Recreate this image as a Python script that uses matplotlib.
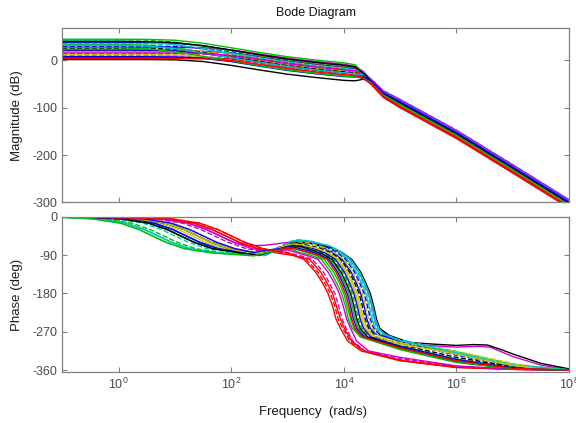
import numpy as np
import matplotlib
matplotlib.use("Agg")
import matplotlib.pyplot as plt
from matplotlib.ticker import FixedLocator, FixedFormatter, NullLocator

plt.rcParams['font.family'] = ['Liberation Sans', 'DejaVu Sans']
plt.rcParams['mathtext.default'] = 'regular'
plt.rcParams['axes.unicode_minus'] = False

# ---------------- data ----------------
# magnitude: log10(frequency in rad/s) sample points shared by all curves
MAG_LOGW = [-1, 0, 0.5, 1, 1.5, 2, 2.5, 3, 3.5, 4, 4.2, 4.35, 4.5, 4.7, 5, 6, 7, 8]

# magnitude (dB) of each system at MAG_LOGW
MAG_DB = [
    [38, 38, 37.8, 36.5, 31.0, 21.9, 12.0, 3.0, -4.0, -10.0, -14, -24.7, -43, -66, -85, -150, -223, -297],
    [34, 33.8, 32.5, 27.0, 17.9, 8.0, -2.0, -11.0, -18.0, -24.0, -26, -33.8, -47.2, -71.6, -92, -157, -230, -304],
    [20, 20, 20, 19.9, 19.4, 15.9, 7.7, -1.0, -8.0, -14.0, -18, -33.8, -52, -78, -100, -165, -238, -312],
    [42, 41.7, 39.9, 33.4, 23.9, 14.0, 4.0, -5.0, -12.0, -18.0, -22, -26.9, -41.8, -64.4, -83, -148, -221, -295],
    [28, 28, 28, 27.9, 27.0, 22.5, 13.8, 5.0, -2.0, -8.0, -12, -23.4, -42.4, -65.2, -84, -149, -222, -296],
    [24, 24, 23.9, 23.0, 18.5, 9.8, 0.0, -9.0, -16.0, -22.0, -24, -32, -46, -70, -90, -155, -228, -302],
    [2, 2, 1.9, 1.4, -2.1, -10.3, -20.0, -29.0, -36.0, -42.0, -43, -39.5, -45.4, -69.2, -89, -154, -227, -301],
    [30, 30, 29.9, 29.4, 25.9, 17.7, 8.0, -1.0, -8.0, -14.0, -18, -26.8, -43.6, -66.8, -86, -151, -224, -298],
    [44, 43.9, 43.0, 38.5, 29.8, 20.0, 10.0, 1.0, -6.0, -12.0, -16, -28.5, -46.6, -70.8, -91, -156, -229, -303],
    [14, 14, 14, 14.0, 13.6, 11.0, 3.6, -5.0, -12.0, -18.0, -22, -34.4, -50.8, -76.4, -98, -163, -236, -310],
    [36, 36.0, 35.6, 33.0, 25.6, 16.0, 6.0, -3.0, -10.0, -16.0, -20, -25.6, -41.2, -63.6, -82, -147, -220, -294],
    [10, 10, 10, 9.8, 8.5, 3.0, -6.1, -15.0, -22.0, -28.0, -30, -31.9, -43, -66, -85, -150, -223, -297],
    [18, 18, 18.0, 17.6, 15.0, 7.6, -2.0, -11.0, -18.0, -24.0, -26, -31.8, -44.8, -68.4, -88, -153, -226, -300],
    [26, 26.0, 25.7, 23.9, 17.4, 7.9, -2.0, -11.0, -18.0, -24.0, -26, -32.3, -45.4, -69.2, -89, -154, -227, -301],
    [22, 22.0, 21.8, 20.5, 15.0, 5.9, -4.0, -13.0, -20.0, -26.0, -28, -32.1, -44.2, -67.6, -87, -152, -225, -299],
    [45, 45.0, 44.7, 42.9, 36.4, 26.9, 17.0, 8.0, 1.0, -5.0, -9, -26.7, -47.8, -72.4, -93, -158, -231, -305],
    [6, 6, 6, 6.0, 5.6, 3.0, -4.4, -13.0, -20.0, -26.0, -28, -38.1, -51.4, -77.2, -99, -164, -237, -311],
    [32, 31.8, 30.5, 25.0, 15.9, 6.0, -4.0, -13.0, -20.0, -26.0, -28, -30.6, -42.4, -65.2, -84, -149, -222, -296],
    [16, 16, 16, 15.9, 15.0, 10.5, 1.8, -7.0, -14.0, -20.0, -22, -27.7, -41.8, -64.4, -83, -148, -221, -295],
    [12, 12.0, 11.9, 11.4, 7.9, -0.3, -10.0, -19.0, -26.0, -32.0, -33, -36.5, -46.6, -70.8, -91, -156, -229, -303],
    [40, 40.0, 39.7, 37.9, 31.4, 21.9, 12.0, 3.0, -4.0, -10.0, -14, -27.2, -46, -70, -90, -155, -228, -302],
    [8, 8, 8.0, 7.6, 5.0, -2.4, -12.0, -21.0, -28.0, -34.0, -35, -35.8, -44.8, -68.4, -88, -153, -226, -300],
    [27, 26.7, 24.9, 18.4, 8.9, -1.0, -11.0, -20.0, -27.0, -33.0, -34, -38.4, -48.4, -73.2, -94, -159, -232, -306],
    [4, 4, 4.0, 3.9, 3.4, -0.1, -8.3, -17.0, -24.0, -30.0, -32, -38.7, -50.2, -75.6, -97, -162, -235, -309],
]

# phase: (log10(frequency in rad/s), phase in degrees) points of each system
PHASE_CURVES = [
    [(-1, 0), (0.14, -5), (0.63, -15), (0.96, -30), (1.2, -45), (1.44, -60), (1.77, -75), (2.26, -85), (2.6, -90), (2.85, -75.6), (3.05, -62), (3.2, -58), (3.4, -61), (3.6, -70.6), (3.8, -83.2), (3.97, -100), (4.13, -130), (4.22, -155), (4.30, -180), (4.36, -210), (4.41, -240), (4.47, -262), (4.56, -275), (5.0, -292), (6.0, -322), (7.0, -350), (8.0, -359)],
    [(-1, -1.1), (-0.36, -5), (0.13, -15), (0.46, -30), (0.7, -45), (0.94, -60), (1.27, -75), (1.76, -85), (2.5, -91), (2.75, -81.5), (2.95, -74), (3.1, -70), (3.25, -72), (3.39, -79), (3.59, -88), (3.76, -100), (3.92, -130), (4.01, -155), (4.09, -180), (4.15, -210), (4.20, -240), (4.26, -262), (4.39, -282), (5.0, -303), (6.0, -334), (7.0, -354), (8.0, -360)],
    [(-1, 0), (0.84, -5), (1.33, -15), (1.66, -30), (1.9, -45), (2.14, -60), (2.47, -75), (2.75, -84), (2.95, -88), (3.1, -91), (3.29, -100), (3.50, -130), (3.62, -155), (3.72, -180), (3.80, -210), (3.86, -240), (3.94, -262), (4.07, -292), (4.31, -315), (5.0, -338), (6.0, -354), (7.0, -358), (8.0, -360)],
    [(-1, -1.4), (-0.46, -5), (0.03, -15), (0.36, -30), (0.6, -45), (0.84, -60), (1.17, -75), (1.66, -85), (2.6, -91), (2.85, -74.8), (3.05, -59), (3.2, -55), (3.4, -58), (3.69, -68.5), (3.89, -82), (4.06, -100), (4.22, -130), (4.31, -155), (4.39, -180), (4.45, -210), (4.50, -240), (4.56, -262), (4.65, -275), (5.0, -290), (6.0, -318), (7.0, -348), (8.0, -359)],
    [(-1, 0), (0.74, -5), (1.23, -15), (1.56, -30), (1.8, -45), (2.04, -60), (2.3, -68), (2.6, -67), (2.9, -62), (3.2, -57), (3.45, -60), (3.74, -69.9), (3.94, -82.8), (4.11, -100), (4.27, -130), (4.36, -155), (4.44, -180), (4.50, -210), (4.55, -240), (4.61, -262), (4.8, -282), (5.2, -300), (6.0, -306), (6.4, -304), (6.6, -306), (7.0, -328), (7.5, -348), (8.0, -359)],
    [(-1, 0), (0.24, -5), (0.73, -15), (1.06, -30), (1.3, -45), (1.54, -60), (1.87, -75), (2.36, -85), (2.5, -88), (2.75, -77.3), (2.95, -67), (3.1, -63), (3.25, -65), (3.51, -74.1), (3.71, -85.2), (3.88, -100), (4.04, -130), (4.13, -155), (4.21, -180), (4.27, -210), (4.32, -240), (4.38, -262), (4.51, -280), (5.0, -298), (5.5, -308), (6.0, -320), (6.5, -334), (7.0, -347), (7.5, -356), (8.0, -360)],
    [(-1, 0), (0.34, -5), (0.83, -15), (1.16, -30), (1.4, -45), (1.64, -60), (1.97, -75), (2.46, -85), (2.6, -88), (2.85, -76), (3.05, -64), (3.2, -60), (3.4, -63), (3.77, -72), (3.97, -84), (4.14, -100), (4.30, -130), (4.39, -155), (4.47, -180), (4.53, -210), (4.58, -240), (4.64, -262), (4.8, -278), (5.16, -295), (5.6, -299), (6.0, -302), (6.3, -300), (6.55, -301), (6.8, -312), (7.0, -322), (7.5, -344), (8.0, -357)],
    [(-1, 0), (0.34, -5), (0.83, -15), (1.16, -30), (1.4, -45), (1.64, -60), (1.97, -75), (2.46, -85), (2.6, -88), (2.85, -73.6), (3.05, -60), (3.2, -56), (3.4, -59), (3.66, -69.2), (3.86, -82.4), (4.03, -100), (4.19, -130), (4.28, -155), (4.36, -180), (4.42, -210), (4.47, -240), (4.53, -262), (4.62, -275), (5.0, -294), (6.0, -325), (7.0, -351), (8.0, -359)],
    [(-1, -0.9), (-0.26, -5), (0.23, -15), (0.56, -30), (0.8, -45), (1.04, -60), (1.37, -75), (1.86, -85), (2.5, -90), (2.75, -79.2), (2.95, -70), (3.1, -66), (3.25, -68), (3.45, -76.2), (3.65, -86.4), (3.82, -100), (3.98, -130), (4.07, -155), (4.15, -180), (4.21, -210), (4.26, -240), (4.32, -262), (4.45, -282), (5.0, -306), (6.0, -338), (7.0, -356), (8.0, -360)],
    [(-1, 0), (0.94, -5), (1.43, -15), (1.76, -30), (2.0, -45), (2.24, -60), (2.57, -75), (2.8, -82), (3.0, -86), (3.15, -90), (3.33, -100), (3.54, -130), (3.66, -155), (3.76, -180), (3.84, -210), (3.90, -240), (3.98, -262), (4.11, -292), (4.35, -315), (5.0, -336), (6.0, -353), (7.0, -358), (8.0, -360)],
    [(-1, -0.3), (-0.06, -5), (0.43, -15), (0.76, -30), (1.0, -45), (1.24, -60), (1.57, -75), (2.06, -85), (2.6, -89), (2.85, -73.3), (3.05, -58), (3.2, -54), (3.4, -57), (3.72, -67.8), (3.92, -81.6), (4.09, -100), (4.25, -130), (4.34, -155), (4.42, -180), (4.48, -210), (4.53, -240), (4.59, -262), (4.68, -275), (5.0, -289), (6.0, -316), (7.0, -346), (8.0, -359)],
    [(-1, 0), (0.64, -5), (1.13, -15), (1.46, -30), (1.7, -45), (1.94, -60), (2.27, -75), (2.55, -81), (2.9, -82), (3.24, -92), (3.44, -100), (3.64, -130), (3.74, -155), (3.84, -180), (3.91, -210), (3.97, -240), (4.04, -262), (4.16, -292), (4.38, -315), (5.0, -333), (6.0, -351), (7.0, -358), (8.0, -360)],
    [(-1, 0), (0.44, -5), (0.93, -15), (1.26, -30), (1.5, -45), (1.74, -60), (2.07, -75), (2.35, -82), (2.6, -86), (2.85, -73.9), (3.05, -63), (3.2, -59), (3.4, -62), (3.63, -71.3), (3.83, -83.6), (4.00, -100), (4.16, -130), (4.25, -155), (4.33, -180), (4.39, -210), (4.44, -240), (4.50, -262), (4.63, -280), (5.0, -296), (5.5, -305), (6.0, -316), (6.5, -330), (7.0, -344), (7.5, -355), (8.0, -360)],
    [(-1, -0.2), (0.04, -5), (0.53, -15), (0.86, -30), (1.1, -45), (1.34, -60), (1.67, -75), (2.16, -85), (2.5, -90), (2.75, -77.4), (2.95, -66), (3.1, -62), (3.25, -64), (3.57, -73.4), (3.77, -84.8), (3.94, -100), (4.10, -130), (4.19, -155), (4.27, -180), (4.33, -210), (4.38, -240), (4.44, -262), (4.57, -282), (5.0, -300), (6.0, -330), (7.0, -352), (8.0, -360)],
    [(-1, 0), (0.14, -5), (0.63, -15), (0.96, -30), (1.2, -45), (1.44, -60), (1.77, -75), (2.26, -85), (2.5, -91), (2.75, -79.3), (2.95, -69), (3.1, -65), (3.25, -67), (3.48, -75.5), (3.68, -86), (3.85, -100), (4.01, -130), (4.10, -155), (4.18, -180), (4.24, -210), (4.29, -240), (4.35, -262), (4.48, -282), (5.0, -304), (6.0, -335), (7.0, -355), (8.0, -360)],
    [(-1, -0.2), (0.04, -5), (0.53, -15), (0.86, -30), (1.1, -45), (1.34, -60), (1.67, -75), (2.16, -85), (2.4, -91), (2.65, -84.3), (2.85, -80), (3.0, -76), (3.1, -78), (3.19, -83.2), (3.41, -90.4), (3.60, -100), (3.77, -130), (3.87, -155), (3.96, -180), (4.03, -210), (4.08, -240), (4.15, -262), (4.29, -282), (5.0, -312), (6.0, -342), (7.0, -357), (8.0, -360)],
    [(-1, 0), (0.94, -5), (1.43, -15), (1.76, -30), (2.0, -45), (2.24, -60), (2.57, -75), (2.8, -81), (3.0, -84), (3.18, -93.6), (3.39, -100), (3.59, -130), (3.70, -155), (3.80, -180), (3.87, -210), (3.94, -240), (4.01, -262), (4.14, -292), (4.36, -315), (5.0, -337), (6.0, -353), (7.0, -358), (8.0, -360)],
    [(-1, -1.1), (-0.36, -5), (0.13, -15), (0.46, -30), (0.7, -45), (0.94, -60), (1.27, -75), (1.76, -85), (2.6, -91), (2.85, -74.8), (3.05, -59), (3.2, -55), (3.4, -58), (3.75, -68.5), (3.95, -82), (4.12, -100), (4.28, -130), (4.37, -155), (4.45, -180), (4.51, -210), (4.56, -240), (4.62, -262), (4.71, -275), (5.0, -291), (6.0, -320), (7.0, -349), (8.0, -359)],
    [(-1, 0), (0.74, -5), (1.23, -15), (1.56, -30), (1.8, -45), (2.04, -60), (2.37, -75), (2.65, -80), (3.0, -78), (3.345, -91.2), (3.54, -100), (3.72, -130), (3.83, -155), (3.92, -180), (3.99, -210), (4.05, -240), (4.12, -262), (4.23, -292), (4.44, -315), (5.0, -330), (6.0, -350), (7.0, -358), (8.0, -360)],
    [(-1, 0), (0.34, -5), (0.83, -15), (1.16, -30), (1.4, -45), (1.64, -60), (1.97, -75), (2.25, -83), (2.5, -88), (2.75, -77.2), (2.95, -68), (3.1, -64), (3.25, -66), (3.54, -74.8), (3.74, -85.6), (3.91, -100), (4.07, -130), (4.16, -155), (4.24, -180), (4.30, -210), (4.35, -240), (4.41, -262), (4.54, -280), (5.0, -300), (5.5, -310), (6.0, -323), (6.5, -337), (7.0, -349), (7.5, -357), (8.0, -360)],
    [(-1, -0.2), (0.04, -5), (0.53, -15), (0.86, -30), (1.1, -45), (1.34, -60), (1.67, -75), (2.16, -85), (2.5, -90), (2.75, -80.1), (2.95, -72), (3.1, -68), (3.25, -70), (3.42, -77.6), (3.62, -87.2), (3.79, -100), (3.95, -130), (4.04, -155), (4.12, -180), (4.18, -210), (4.23, -240), (4.29, -262), (4.42, -282), (5.0, -307), (6.0, -339), (7.0, -356), (8.0, -360)],
    [(-1, 0), (0.44, -5), (0.93, -15), (1.26, -30), (1.5, -45), (1.74, -60), (2.07, -75), (2.4, -84), (2.65, -78.2), (2.85, -75), (3.0, -71), (3.15, -72.5), (3.36, -79.7), (3.56, -88.4), (3.73, -100), (3.89, -130), (3.98, -155), (4.06, -180), (4.12, -210), (4.17, -240), (4.23, -262), (4.36, -282), (5.0, -309), (6.0, -340), (7.0, -357), (8.0, -360)],
    [(-1, -1.4), (-0.46, -5), (0.03, -15), (0.36, -30), (0.6, -45), (0.84, -60), (1.17, -75), (1.66, -85), (2.4, -92), (2.65, -83.5), (2.85, -77), (3.0, -73), (3.12, -75), (3.27, -81.1), (3.475, -89.2), (3.65, -100), (3.82, -130), (3.92, -155), (4.00, -180), (4.06, -210), (4.12, -240), (4.18, -262), (4.32, -282), (5.0, -310), (6.0, -341), (7.0, -357), (8.0, -360)],
    [(-1, 0), (0.84, -5), (1.33, -15), (1.66, -30), (1.9, -45), (2.14, -60), (2.47, -75), (2.75, -79), (3.0, -74), (3.15, -76), (3.33, -81.8), (3.53, -89.6), (3.70, -100), (3.86, -130), (3.95, -155), (4.03, -180), (4.09, -210), (4.14, -240), (4.20, -262), (4.33, -282), (5.0, -308), (6.0, -338), (7.0, -356), (8.0, -360)],
]

LINE_COLORS = ['#0000ff', '#00c000', '#ff0000', '#00c8c8', '#d000d0', '#c8c800', '#000000']
# line style for each pass through the colour cycle
LINE_STYLES = ['-', '--', '-', '-']

XTICK_EXP = [0, 2, 4, 6, 8]
MAG_TICKS = [0, -100, -200, -300]
PHASE_TICKS = [0, -90, -180, -270, -360]

# ---------------- drawing ----------------
fig = plt.figure(figsize=(5.76, 4.23), dpi=100)
ax1 = fig.add_axes([0.1082, 0.5217, 0.8797, 0.4113])
ax2 = fig.add_axes([0.1082, 0.1199, 0.8797, 0.3678])

w_mag = np.power(10.0, MAG_LOGW)
for i, mag in enumerate(MAG_DB):
    ax1.plot(w_mag, mag, color=LINE_COLORS[i % 7], linestyle=LINE_STYLES[i // 7], lw=1.0)

for i, pts in enumerate(PHASE_CURVES):
    lw_, ph = zip(*pts)
    ax2.plot(np.power(10.0, lw_), ph, color=LINE_COLORS[i % 7],
             linestyle=LINE_STYLES[i // 7], lw=1.0)

for ax in (ax1, ax2):
    ax.set_xscale('log')
    ax.set_xlim(1e-1, 1e8)
    ax.xaxis.set_major_locator(FixedLocator([10.0 ** e for e in XTICK_EXP]))
    ax.xaxis.set_minor_locator(NullLocator())
    ax.yaxis.set_minor_locator(NullLocator())
    ax.tick_params(which='both', direction='in', top=True, right=True, length=3.5,
                   width=0.8, color='#808080', labelcolor='#4a4a4a', labelsize=9)
    for s in ax.spines.values():
        s.set_color('#808080')
        s.set_linewidth(0.9)

ax1.set_ylim(-300, 68)
ax1.yaxis.set_major_locator(FixedLocator(MAG_TICKS))
ax1.tick_params(labelbottom=False)

ax2.set_ylim(-365, 0)
ax2.yaxis.set_major_locator(FixedLocator(PHASE_TICKS))
ax2.xaxis.set_major_formatter(FixedFormatter([r'$10^{%d}$' % e for e in XTICK_EXP]))

fig.text(315.6 / 576, 1 - 13 / 423, 'Bode Diagram', ha='center', va='center', fontsize=9, color='#111111')
fig.text(17 / 576, 1 - 115.3 / 423, 'Magnitude (dB)', rotation=90, ha='center', va='center', fontsize=9.5, color='#1a1a1a')
fig.text(17 / 576, 1 - 294.5 / 423, 'Phase (deg)', rotation=90, ha='center', va='center', fontsize=9.5, color='#1a1a1a')
fig.text(313 / 576, 1 - 412 / 423, 'Frequency  (rad/s)', ha='center', va='center', fontsize=9.5, color='#1a1a1a')

fig.savefig('out.png', dpi=100)
